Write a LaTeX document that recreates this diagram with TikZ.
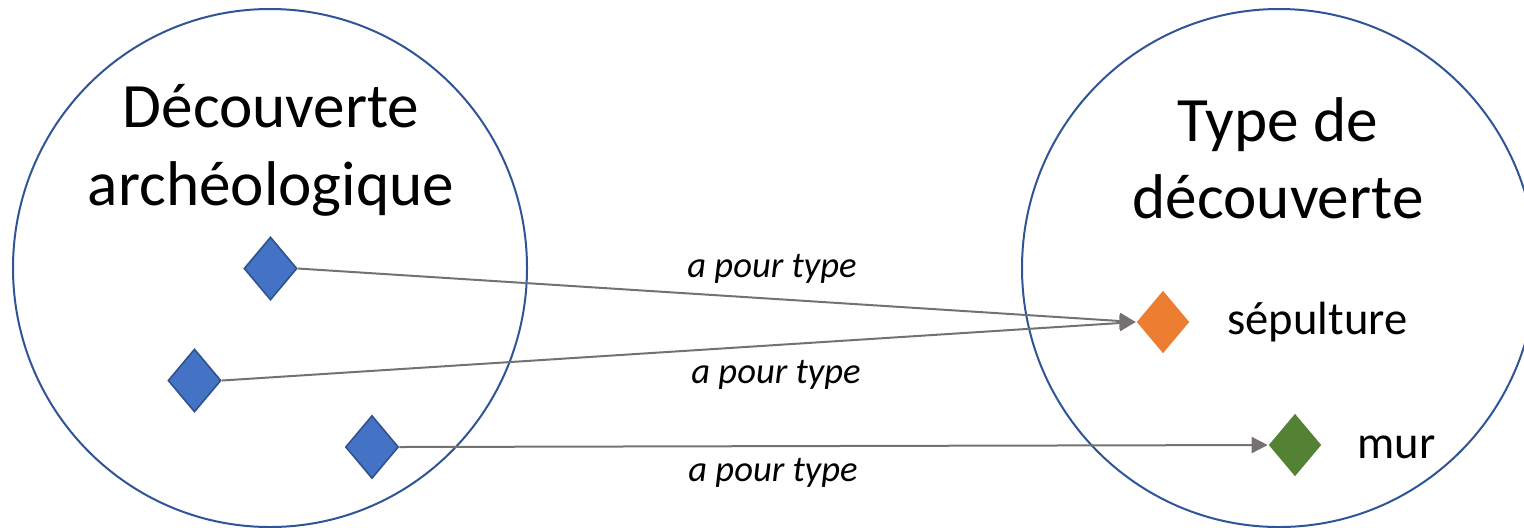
\documentclass[tikz,border=0pt]{standalone}
\usepackage{fontspec}
\setmainfont{Carlito}
\usetikzlibrary{shapes.geometric,arrows.meta}
\definecolor{ringblue}{HTML}{2F5597}
\definecolor{dfill}{HTML}{4472C4}
\definecolor{dline}{HTML}{2F528F}
\definecolor{dorange}{HTML}{ED7D31}
\definecolor{dgreen}{HTML}{548235}
\definecolor{arrgray}{HTML}{767171}
\tikzset{
  ring/.style={ellipse,draw=ringblue,line width=1pt,minimum width=257pt,minimum height=259pt,inner sep=0pt},
  gem/.style={diamond,minimum width=26.5pt,minimum height=31.5pt,inner sep=0pt,line width=0.8pt},
  bluegem/.style={gem,fill=dfill,draw=dline},
  title/.style={font=\fontsize{31.6}{37}\selectfont,anchor=base,inner sep=0pt},
  item/.style={font=\fontsize{23.3}{28}\selectfont,anchor=base west,inner sep=0pt},
  rel/.style={font=\itshape\fontsize{18.3}{22}\selectfont,inner sep=0pt},
  link/.style={draw=arrgray,line width=1pt,-{Triangle[length=8pt,width=8pt]}}
}
\begin{document}
\begin{tikzpicture}[x=0.5pt,y=-0.5pt]
\useasboundingbox (0,0) rectangle (1524,527);
\begin{scope}
\clip (0,0) rectangle (1524,527);
\node[ring] (lc) at (270,268) {};
\node[ring] (rc) at (1279,268) {};
\end{scope}
\node[title] (t1) at (271,127) {Découverte};
\node[title] (t2) at (271,205) {archéologique};
\node[title] (t3) at (1278,141) {Type de};
\node[title] (t4) at (1278,218) {découverte};
\node[bluegem] (d1) at (270.5,268.5) {};
\node[bluegem] (d2) at (194.5,380.5) {};
\node[bluegem] (d3) at (372,447) {};
\node[gem,fill=dorange] (sep) at (1163,322) {};
\node[gem,fill=dgreen] (mur) at (1295,445) {};
\node[item] (lsep) at (1227,334) {sépulture};
\node[item] (lmur) at (1357,458) {mur};
\draw[link] (d1.east) -- (sep.west);
\draw[link] (d2.east) -- (sep.west);
\draw[link] (d3.east) -- (mur.west);
\node[rel] (r1) at (772,269) {a pour type};
\node[rel] (r2) at (776,375) {a pour type};
\node[rel] (r3) at (773,473) {a pour type};
\end{tikzpicture}
\end{document}
